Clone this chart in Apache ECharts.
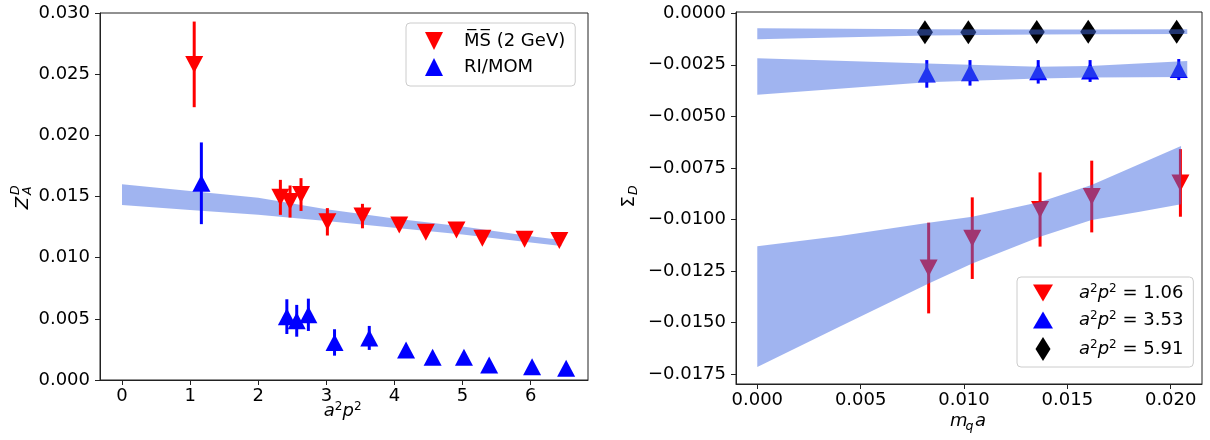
<!DOCTYPE html>
<html><head><meta charset="utf-8">
<script src="https://cdn.jsdelivr.net/npm/echarts@6/dist/echarts.min.js"></script>
<style>html,body{margin:0;padding:0;background:#fff}#c{width:1210px;height:440px}</style>
</head><body><div id="c"></div>
<script>
// ---------- Left panel data: Z_A^D vs a^2 p^2 ----------
const leftMsX   = [1.06, 2.325, 2.467, 2.628, 3.015, 3.53, 4.07, 4.46, 4.91, 5.29, 5.91, 6.42];
const leftMsY   = [0.0258, 0.01493, 0.01459, 0.01516, 0.01293, 0.0134, 0.01268, 0.01208, 0.01227, 0.01159, 0.01151, 0.0114];
const leftMsErr = [0.0035, 0.00143, 0.00131, 0.00134, 0.00112, 0.0010, 0.0003, 0.0003, 0.0003, 0.0003, 0.0003, 0.0003];
const leftRiX   = [1.165, 2.42, 2.565, 2.736, 3.12, 3.63, 4.17, 4.56, 5.02, 5.39, 6.02, 6.52];
const leftRiY   = [0.01608, 0.00518, 0.00484, 0.00533, 0.00307, 0.00344, 0.00245, 0.00186, 0.00186, 0.00123, 0.00109, 0.00096];
const leftRiErr = [0.00334, 0.00142, 0.0013, 0.00132, 0.00108, 0.00098, 0.0003, 0.0003, 0.0003, 0.0003, 0.0003, 0.0003];
const leftBandX  = [0, 1, 2, 3, 4, 5, 6, 6.45];
const leftBandHi = [0.0160, 0.01545, 0.0149, 0.01395, 0.0132, 0.01255, 0.01175, 0.01145];
const leftBandLo = [0.0143, 0.0139, 0.0135, 0.0130, 0.01245, 0.0119, 0.01125, 0.01095];
const leftXTicks = [0, 1, 2, 3, 4, 5, 6];

// ---------- Right panel data: Sigma_D vs m_q a ----------
const r106X = [0.00829, 0.0104, 0.01368, 0.01618, 0.02047];
const r106Y = [-0.01236, -0.01091, -0.00952, -0.00889, -0.00823];
const r106E = [0.0022, 0.00198, 0.0018, 0.00174, 0.00164];
const r353X = [0.0082, 0.01029, 0.01359, 0.0161, 0.02039];
const r353Y = [-0.00294, -0.00289, -0.00284, -0.0028, -0.00273];
const r353E = [0.00067, 0.00062, 0.00057, 0.00053, 0.00051];
const r591X = [0.00811, 0.01021, 0.01352, 0.01601, 0.02029];
const r591Y = [-0.00092, -0.00092, -0.00091, -0.0009, -0.00089];
const r591E = [0.0001, 0.0001, 0.0001, 0.0001, 0.0001];
const band106X  = [0, 0.004, 0.00829, 0.0104, 0.01368, 0.01617, 0.0185, 0.0205];
const band106Hi = [-0.0113, -0.01081, -0.01016, -0.00987, -0.00915, -0.00833, -0.00731, -0.00644];
const band106Lo = [-0.01716, -0.0152, -0.01311, -0.01214, -0.01084, -0.01003, -0.00963, -0.00927];
const band353X  = [0, 0.0082, 0.0136, 0.0161, 0.0208];
const band353Hi = [-0.00218, -0.00243, -0.00259, -0.00256, -0.00231];
const band353Lo = [-0.00395, -0.00335, -0.00316, -0.00311, -0.00309];
const band591X  = [0, 0.0082, 0.0136, 0.0161, 0.0208];
const band591Hi = [-0.00073, -0.00077, -0.00079, -0.00079, -0.00077];
const band591Lo = [-0.00126, -0.00108, -0.00103, -0.00102, -0.00101];
const rightXTicks = [0, 0.005, 0.010, 0.015, 0.020];
const rightYTicks = [-0.0175, -0.015, -0.0125, -0.01, -0.0075, -0.005, -0.0025, 0];

const NAME_MS = 'M\u0305S\u0305 (2 GeV)';
const NAME_RI = 'RI/MOM';
const NAME_106 = 'a²p² = 1.06';
const NAME_353 = 'a²p² = 3.53';
const NAME_591 = 'a²p² = 5.91';

const FONT = 'DejaVu Sans';
const BAND = 'rgba(65,105,225,0.5)';
const DOWN = 'path://M0,0L2,0L1,2Z';
const DOWN_R = 'path://M0,0L20,0L10,17Z';
const UP_R = 'path://M10,0L20,17L0,17Z';
const THIN_DIAMOND = 'path://M5,0L10,8L5,16L0,8Z';

function errSeries(xs, ys, es, xi, yi, color, z) {
  return {
    type: 'custom', xAxisIndex: xi, yAxisIndex: yi, z: z, silent: true,
    data: xs.map((x, i) => [x, ys[i] - es[i], ys[i] + es[i]]),
    encode: { x: 0, y: [1, 2] },
    renderItem: (params, api) => {
      const a = api.coord([api.value(0), api.value(1)]);
      const b = api.coord([api.value(0), api.value(2)]);
      return { type: 'line', shape: { x1: a[0], y1: a[1], x2: b[0], y2: b[1] },
               style: { stroke: color, lineWidth: 3 } };
    }
  };
}
function bandSeries(xs, lo, hi, xi, yi, z) {
  return {
    type: 'custom', xAxisIndex: xi, yAxisIndex: yi, z: z, silent: true,
    data: xs.map((x, i) => [x, lo[i], hi[i]]),
    encode: { x: 0, y: [1, 2] },
    renderItem: (params, api) => {
      if (params.dataIndex !== 0) return null;
      const pts = [];
      for (let i = 0; i < xs.length; i++) pts.push(api.coord([xs[i], hi[i]]));
      for (let i = xs.length - 1; i >= 0; i--) pts.push(api.coord([xs[i], lo[i]]));
      return { type: 'polygon', shape: { points: pts }, style: { fill: BAND } };
    }
  };
}
function scatter(name, xs, ys, xi, yi, color, symbol, size, rot, z) {
  return {
    type: 'scatter', name: name, xAxisIndex: xi, yAxisIndex: yi, z: z, silent: true,
    symbol: symbol, symbolSize: size, symbolRotate: rot,
    itemStyle: { color: color, opacity: 1 },
    data: xs.map((x, i) => [x, ys[i]])
  };
}

const mathRich = {
  i: { fontFamily: FONT, fontSize: 18, fontStyle: 'italic', color: '#000', fill: '#000', lineHeight: 20 },
  s: { fontFamily: FONT, fontSize: 12, color: '#000', fill: '#000', lineHeight: 12, verticalAlign: 'top' },
  n: { fontFamily: FONT, fontSize: 18, color: '#000', fill: '#000', lineHeight: 20 }
};

const tickLabel = { fontFamily: FONT, fontSize: 18, color: '#000', lineHeight: 18 };
const axisBase = {
  splitLine: { show: false },
  axisLine: { show: true, onZero: false, lineStyle: { color: '#222', width: 1 } },
  axisTick: { show: true, length: 5, lineStyle: { color: '#222', width: 1 } }
};

const chart = echarts.init(document.getElementById('c'), null, { renderer: 'canvas' });
const option = {
  animation: false,
  backgroundColor: '#fff',
  grid: [
    { left: 100, top: 13, width: 488, height: 367, show: true, borderColor: '#222', borderWidth: 1, backgroundColor: 'transparent' },
    { left: 736, top: 12, width: 466, height: 372, show: true, borderColor: '#222', borderWidth: 1, backgroundColor: 'transparent' }
  ],
  xAxis: [
    Object.assign({}, axisBase, {
      type: 'value', gridIndex: 0, min: -0.323, max: 6.841,
      axisTick: Object.assign({}, axisBase.axisTick, { customValues: leftXTicks }),
      axisLabel: Object.assign({}, tickLabel, { customValues: leftXTicks, margin: 7, formatter: v => String(v) })
    }),
    Object.assign({}, axisBase, {
      type: 'value', gridIndex: 1, min: -0.00103, max: 0.021514,
      axisTick: Object.assign({}, axisBase.axisTick, { customValues: rightXTicks }),
      axisLabel: Object.assign({}, tickLabel, { customValues: rightXTicks, margin: 7, formatter: v => v.toFixed(3) })
    })
  ],
  yAxis: [
    Object.assign({}, axisBase, {
      type: 'value', gridIndex: 0, min: 0, max: 0.030, interval: 0.005,
      axisLabel: Object.assign({}, tickLabel, { margin: 10, formatter: v => v.toFixed(3) })
    }),
    Object.assign({}, axisBase, {
      type: 'value', gridIndex: 1, min: -0.017986, max: 0.000063,
      axisTick: Object.assign({}, axisBase.axisTick, { customValues: rightYTicks }),
      axisLabel: Object.assign({}, tickLabel, { customValues: rightYTicks, margin: 10,
        formatter: v => (v < -1e-9 ? '\u2212' : '') + Math.abs(v).toFixed(4) })
    })
  ],
  legend: [
    {
      left: 406, top: 23, orient: 'vertical', selectedMode: false,
      data: [{ name: NAME_MS, icon: DOWN }, { name: NAME_RI, icon: 'triangle' }],
      itemWidth: 18, itemHeight: 18, itemGap: 8, padding: [9, 10, 10, 19],
      borderColor: '#ccc', borderWidth: 1, borderRadius: 4, backgroundColor: 'rgba(255,255,255,0.8)',
      textStyle: { fontFamily: FONT, fontSize: 18, color: '#000', lineHeight: 18, padding: [0, 0, 0, 16] }
    },
    {
      left: 1017, top: 277, orient: 'vertical', selectedMode: false, symbolKeepAspect: true,
      data: [{ name: NAME_106, icon: DOWN_R }, { name: NAME_353, icon: UP_R }, { name: NAME_591, icon: THIN_DIAMOND }],
      itemWidth: 20, itemHeight: 24, itemGap: 7, padding: [6, 10, 6, 16],
      borderColor: '#ccc', borderWidth: 1, borderRadius: 4, backgroundColor: 'rgba(255,255,255,0.8)',
      formatter: name => '{i|a}{s|2}{i|p}{s|2}{n|' + name.replace('a²p²', '') + '}',
      textStyle: { fontFamily: FONT, fontSize: 18, color: '#000', lineHeight: 20, padding: [0, 0, 0, 21], rich: mathRich }
    }
  ],
  series: [
    // left panel: band under points
    bandSeries(leftBandX, leftBandLo, leftBandHi, 0, 0, 1),
    errSeries(leftMsX, leftMsY, leftMsErr, 0, 0, '#ff0000', 2),
    scatter(NAME_MS, leftMsX, leftMsY, 0, 0, '#ff0000', 'triangle', [18, 17], 180, 3),
    errSeries(leftRiX, leftRiY, leftRiErr, 0, 0, '#0000ff', 2),
    scatter(NAME_RI, leftRiX, leftRiY, 0, 0, '#0000ff', 'triangle', [18, 17], 0, 3),
    // right panel: points under bands
    errSeries(r106X, r106Y, r106E, 1, 1, '#ff0000', 2),
    scatter(NAME_106, r106X, r106Y, 1, 1, '#ff0000', 'triangle', [18, 17], 180, 3),
    errSeries(r353X, r353Y, r353E, 1, 1, '#0000ff', 2),
    scatter(NAME_353, r353X, r353Y, 1, 1, '#0000ff', 'triangle', [18, 17], 0, 3),
    errSeries(r591X, r591Y, r591E, 1, 1, '#000000', 2),
    scatter(NAME_591, r591X, r591Y, 1, 1, '#000000', 'diamond', [16, 24], 0, 3),
    bandSeries(band106X, band106Lo, band106Hi, 1, 1, 5),
    bandSeries(band353X, band353Lo, band353Hi, 1, 1, 5),
    bandSeries(band591X, band591Lo, band591Hi, 1, 1, 5)
  ],
  graphic: [
    { type: 'group', x: 21, y: 197, rotation: Math.PI / 2, children: [
      { type: 'text', x: -6, y: 2, style: { text: 'Z', fontFamily: FONT, fontSize: 18, fontStyle: 'italic', fill: '#000', align: 'center', verticalAlign: 'middle' } },
      { type: 'text', x: 2, y: -5, style: { text: 'D', fontFamily: FONT, fontSize: 12.6, fontStyle: 'italic', fill: '#000', align: 'left', verticalAlign: 'middle' } },
      { type: 'text', x: 2, y: 6.5, style: { text: 'A', fontFamily: FONT, fontSize: 12.6, fontStyle: 'italic', fill: '#000', align: 'left', verticalAlign: 'middle' } }
    ] },
    { type: 'group', x: 630, y: 199, rotation: Math.PI / 2, children: [
      { type: 'text', x: -2.7, y: -0.8, style: { text: 'Σ', fontFamily: FONT, fontSize: 18, fill: '#000', align: 'center', verticalAlign: 'middle' } },
      { type: 'text', x: 4, y: 4.2, style: { text: 'D', fontFamily: FONT, fontSize: 12.6, fontStyle: 'italic', fill: '#000', align: 'left', verticalAlign: 'middle' } }
    ] },
    { type: 'text', x: 342.7, y: 411, style: { text: '{i|a}{s|2}{i|p}{s|2}', fontFamily: FONT, fontSize: 18, fill: '#000', align: 'center', verticalAlign: 'middle', rich: mathRich } },
    { type: 'text', x: 950, y: 421.5, style: { text: 'm', fontFamily: FONT, fontSize: 18, fontStyle: 'italic', fill: '#000', align: 'left', verticalAlign: 'middle' } },
    { type: 'text', x: 965.5, y: 427, style: { text: 'q', fontFamily: FONT, fontSize: 12.6, fontStyle: 'italic', fill: '#000', align: 'left', verticalAlign: 'middle' } },
    { type: 'text', x: 975, y: 421.5, style: { text: 'a', fontFamily: FONT, fontSize: 18, fontStyle: 'italic', fill: '#000', align: 'left', verticalAlign: 'middle' } }
  ]
};
chart.setOption(option);
</script>
</body></html>
